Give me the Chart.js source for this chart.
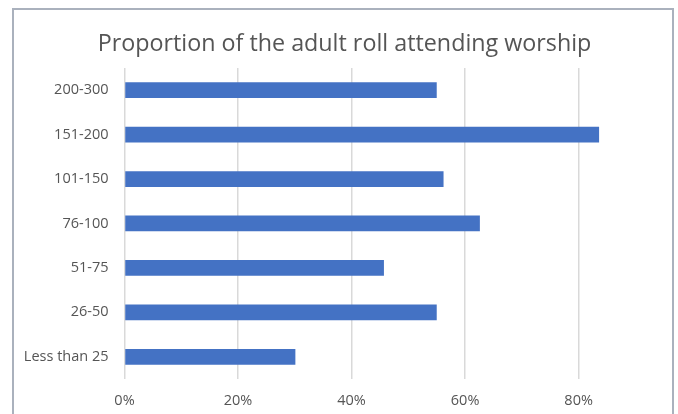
<!DOCTYPE html>
<html>
<head>
<meta charset="utf-8">
<script src="https://cdn.jsdelivr.net/npm/chart.js@4"></script>
<style>
  body { margin: 0; background: #fff; }
  #wrap { position: relative; width: 678px; height: 414px; overflow: hidden; }
  #frame {
    position: absolute; left: 12px; top: 8px; width: 658px; height: 420px;
    border: 2px solid #aab1bd;
  }
  canvas { position: absolute; left: 0; top: 0; }
</style>
</head>
<body>
<div id="wrap">
  <div id="frame"></div>
  <canvas id="chart" width="678" height="414"></canvas>
</div>
<script>
// ================= DATA =================
const categories = ["200-300", "151-200", "101-150", "76-100", "51-75", "26-50", "Less than 25"];
const proportions = [0.55, 0.836, 0.562, 0.626, 0.457, 0.55, 0.301];
const tickValues = [0, 0.2, 0.4, 0.6, 0.8];

const textColor = "#555555";
const fontFamily = "'Open Sans', 'Noto Sans', sans-serif";

// ================= CHART =================
// left padding 11 puts the title over the frame's centre;
// x max past 90% leaves empty room on the right like the original
const ctx = document.getElementById("chart").getContext("2d");
new Chart(ctx, {
    type: "bar",
    data: {
        labels: categories,
        datasets: [{
            data: proportions,
            backgroundColor: "#4472c4",
            categoryPercentage: 1,
            barPercentage: 0.355,
        }]
    },
    options: {
        indexAxis: "y",
        responsive: false,
        animation: false,
        layout: { padding: { left: 11, right: 0, top: 0, bottom: 0 } },
        plugins: {
            legend: { display: false },
            tooltip: { enabled: false },
            title: {
                display: true,
                text: "Proportion of the adult roll attending worship",
                color: textColor,
                font: { family: fontFamily, size: 23.3, weight: "normal" },
                padding: { top: 30, bottom: 10 },
            }
        },
        scales: {
            x: {
                min: 0,
                max: 0.975,
                afterBuildTicks: (scale) => {
                    scale.ticks = tickValues.map(v => ({ value: v }));
                },
                afterFit: (scale) => { scale.height = 35; },
                grid: { color: "#d9d9d9", lineWidth: 1.5, drawTicks: false },
                border: { display: false },
                ticks: {
                    color: textColor,
                    padding: 13,
                    font: { family: fontFamily, size: 14.5 },
                    callback: (v) => Math.round(v * 100) + "%",
                }
            },
            y: {
                afterFit: (scale) => { scale.width = 113.5; },
                grid: { display: false, drawTicks: false },
                border: { display: false },
                ticks: {
                    color: textColor,
                    padding: 16,
                    font: { family: fontFamily, size: 14.5 },
                }
            }
        }
    }
});
</script>
</body>
</html>
